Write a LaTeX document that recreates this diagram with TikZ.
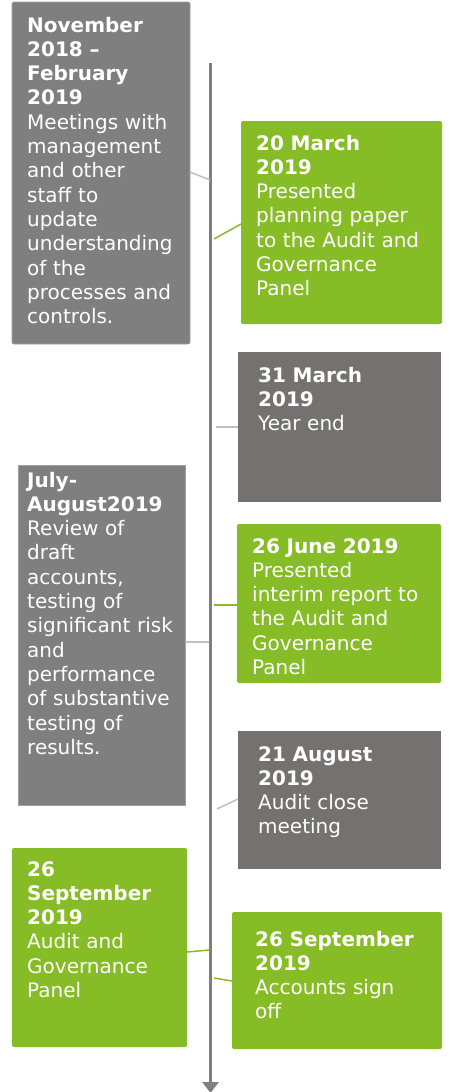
\documentclass[tikz,border=0pt]{standalone}
\usepackage{fontspec}
\setmainfont{DejaVu Sans}
\usetikzlibrary{calc,arrows.meta}
\definecolor{boxgrey}{HTML}{7F7F7F}
\definecolor{darkgrey}{HTML}{757171}
\definecolor{leafgreen}{HTML}{86BC25}
\definecolor{linkgrey}{HTML}{C0C0C0}
\begin{document}
\begin{tikzpicture}[x=1pt,y=-1pt,
  evt/.style={anchor=north west,inner sep=0pt,outer sep=0pt},
  greybox/.style={evt,fill=boxgrey,draw=boxgrey!75!white,line width=0.8pt},
  darkbox/.style={evt,fill=darkgrey},
  greenbox/.style={evt,fill=leafgreen,rounded corners=2pt},
  txt/.style={anchor=base west,inner sep=0pt,text width=200pt,align=left,text=white,
    font=\fontsize{20}{24.3}\selectfont},
  glink/.style={linkgrey,line width=1.5pt},
  vlink/.style={leafgreen,line width=1.5pt}]
\useasboundingbox (0,0) rectangle (450,1092);
% timeline
\coordinate (start) at (210.5,63);
\coordinate (end) at (210.5,1093);
\draw [boxgrey,line width=3pt,-{Triangle[width=16pt,length=11pt]}] (start) -- (end);
% boxes
\node [greybox,rounded corners=2pt,minimum width=178pt,minimum height=342pt] (nov) at (12,2) {};
\node [greenbox,minimum width=201pt,minimum height=203pt] (mar20) at (241,121) {};
\node [darkbox,minimum width=203pt,minimum height=150pt] (mar31) at (238,352) {};
\node [greybox,minimum width=167pt,minimum height=340pt] (jul) at (18,465) {};
\node [greenbox,minimum width=204pt,minimum height=159pt] (jun) at (237,524) {};
\node [darkbox,minimum width=203pt,minimum height=138pt] (aug) at (238,731) {};
\node [greenbox,minimum width=175pt,minimum height=199pt] (sepA) at (12,848) {};
\node [greenbox,minimum width=210pt,minimum height=137pt] (sepB) at (232,912) {};
% texts
\node [txt] (nov-t) at ($(nov.north west)+(15,30)$)
  {\textbf{November}\\\textbf{2018 –}\\\textbf{February}\\\textbf{2019}\\Meetings with\\management\\and other\\staff to\\update\\understanding\\of the\\processes and\\controls.};
\node [txt] (mar20-t) at ($(mar20.north west)+(15,29)$)
  {\textbf{20 March}\\\textbf{2019}\\Presented\\planning paper\\to the Audit and\\Governance\\Panel};
\node [txt] (mar31-t) at ($(mar31.north west)+(20,30)$)
  {\textbf{31 March}\\\textbf{2019}\\Year end};
\node [txt] (jul-t) at ($(jul.north west)+(9,22)$)
  {\textbf{July-}\\\textbf{August2019}\\Review of\\draft\\accounts,\\testing of\\significant risk\\and\\performance\\of substantive\\testing of\\results.};
\node [txt] (jun-t) at ($(jun.north west)+(15,29)$)
  {\textbf{26 June 2019}\\Presented\\interim report to\\the Audit and\\Governance\\Panel};
\node [txt] (aug-t) at ($(aug.north west)+(20,30)$)
  {\textbf{21 August}\\\textbf{2019}\\Audit close\\meeting};
\node [txt] (sepA-t) at ($(sepA.north west)+(15,28)$)
  {\textbf{26}\\\textbf{September}\\\textbf{2019}\\Audit and\\Governance\\Panel};
\node [txt] (sepB-t) at ($(sepB.north west)+(23,34)$)
  {\textbf{26 September}\\\textbf{2019}\\Accounts sign\\off};
% links to the timeline
\coordinate (tA) at (210,180);
\coordinate (tB) at (214,239);
\coordinate (tC) at (216,427);
\coordinate (tD) at (209,642);
\coordinate (tE) at (214,605);
\coordinate (tF) at (217,809);
\coordinate (tG) at (209,950);
\coordinate (tH) at (214,978);
\draw [glink] ($(nov.north east)+(0,170)$) -- (tA);
\draw [vlink] (tB) -- ($(mar20.north west)+(0,103)$);
\draw [glink] (tC) -- ($(mar31.north west)+(0,75)$);
\draw [glink] ($(jul.north east)+(0,177)$) -- (tD);
\draw [vlink] (tE) -- ($(jun.north west)+(0,81)$);
\draw [glink] (tF) -- ($(aug.north west)+(0,68)$);
\draw [vlink] ($(sepA.north east)+(0,104)$) -- (tG);
\draw [vlink] (tH) -- ($(sepB.north west)+(0,69)$);
\end{tikzpicture}
\end{document}
